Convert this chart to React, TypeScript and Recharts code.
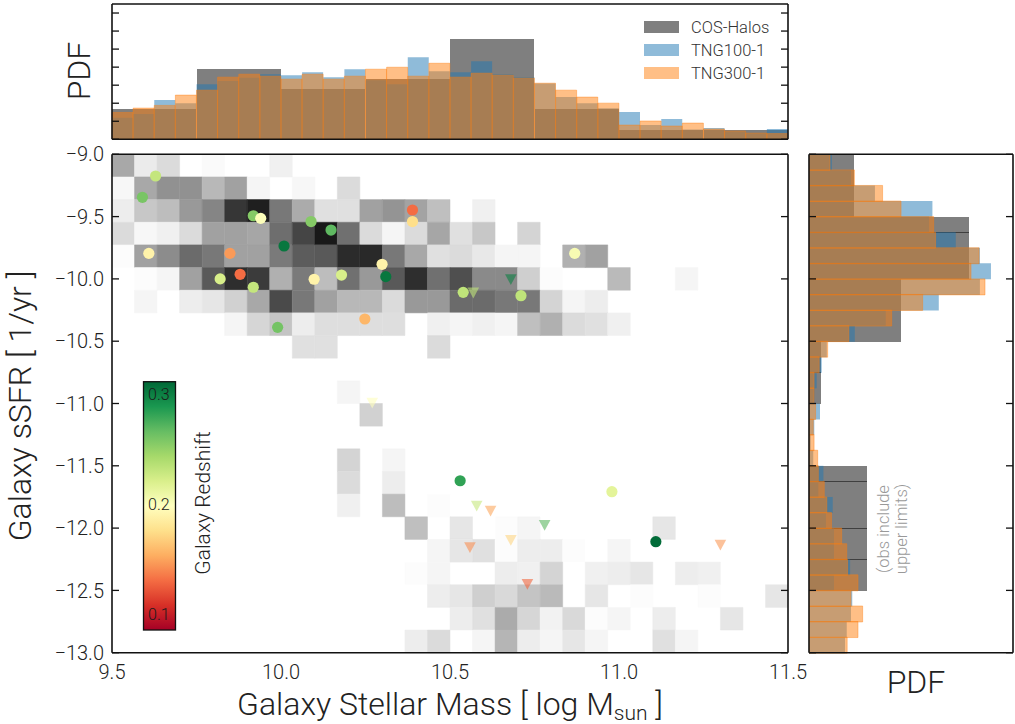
import React from "react";
import { ScatterChart, Scatter, BarChart, Bar, XAxis, YAxis, ReferenceArea } from "recharts";

const FONT = "Roboto, 'Noto Sans', sans-serif";
const INK = "#222222";

// ---------- stellar mass axis & PDFs (top panel) ----------
const MASS_MIN = 9.5;
const MASS_MAX = 11.5;
const massTicks = [9.5, 10.0, 10.5, 11.0, 11.5];

const cosMassBinWidth = 0.25;
const cosMassPdf = [0.335, 0.777, 0.556, 0.667, 1.109, 0.335, 0.106, 0.106];

const simMassBinWidth = 0.0625;
const tng100MassPdf = [
  0.239, 0.28, 0.435, 0.401, 0.611, 0.645, 0.681, 0.722, 0.711, 0.744, 0.689, 0.777, 0.656, 0.611, 0.91, 0.755,
  0.744, 0.866, 0.722, 0.689, 0.619, 0.468, 0.401, 0.343, 0.302, 0.158, 0.225, 0.11, 0.125, 0.092, 0.074, 0.114,
];
const tng300MassPdf = [
  0.298, 0.346, 0.376, 0.49, 0.545, 0.689, 0.722, 0.7, 0.667, 0.722, 0.667, 0.7, 0.777, 0.799, 0.7, 0.843,
  0.689, 0.733, 0.711, 0.678, 0.622, 0.545, 0.468, 0.401, 0.158, 0.203, 0.147, 0.18, 0.114, 0.092, 0.07, 0.063,
];
const massPdfTicks = [0, 0.2, 0.4, 0.6, 0.8, 1.0, 1.2, 1.4];
const MASS_PDF_MAX = 1.5;

// ---------- sSFR axis & PDFs (right panel), bins listed from -9 downwards ----------
const SSFR_MIN = -13;
const SSFR_MAX = -9;
const ssfrTicks = [-13, -12.5, -12, -11.5, -11, -10.5, -10, -9.5, -9];

const cosSsfrBinWidth = 0.5;
const cosSsfrPdf = [0.214, 0.754, 0.434, 0.056, 0, 0.275, 0.275, 0];

const simSsfrBinWidth = 0.125;
const tng100SsfrPdf = [
  0.108, 0.198, 0.311, 0.582, 0.566, 0.692, 0.806, 0.858, 0.806, 0.612, 0.362, 0.216, 0.084, 0.06, 0.036, 0.026,
  0.052, 0.025, 0.008, 0.02, 0.068, 0.044, 0.112, 0.08, 0.118, 0.118, 0.194, 0.118, 0.204, 0.198, 0.178, 0.17,
];
const tng300SsfrPdf = [
  0.099, 0.214, 0.347, 0.434, 0.588, 0.597, 0.802, 0.764, 0.83, 0.536, 0.39, 0.188, 0.088, 0.048, 0.024, 0.024,
  0.031, 0.02, 0.024, 0.041, 0.044, 0.072, 0.084, 0.106, 0.154, 0.178, 0.182, 0.231, 0.198, 0.253, 0.231, 0.18,
];
const ssfrPdfTicks = [0, 0.2, 0.4, 0.6, 0.8];
const SSFR_PDF_MAX = 0.962;

// ---------- simulated galaxy density (percent grey), rows from sSFR = -9 downwards ----------
const GRID_NX = 30;
const GRID_NY = 22;
const gridShade: number[][] = [
  [34, 8, 14, 0, 2, 0, 0, 6, 0, 0, 0, 0, 0, 0, 0, 0, 0, 0, 0, 0, 0, 0, 0, 0, 0, 0, 0, 0, 0, 0],
  [3, 34, 43, 43, 28, 37, 4, 0, 3, 0, 14, 0, 0, 0, 0, 0, 0, 0, 0, 0, 0, 0, 0, 0, 0, 0, 0, 0, 0, 0],
  [7, 22, 26, 40, 48, 79, 88, 53, 33, 12, 12, 37, 42, 36, 25, 0, 6, 0, 0, 0, 0, 0, 0, 0, 0, 0, 0, 0, 0, 0],
  [14, 3, 6, 14, 37, 37, 35, 57, 73, 90, 56, 14, 4, 14, 35, 12, 22, 0, 17, 0, 0, 0, 0, 0, 0, 0, 0, 0, 0, 0],
  [1, 37, 45, 58, 53, 37, 37, 52, 64, 65, 83, 84, 53, 34, 12, 14, 9, 4, 4, 0, 31, 37, 0, 0, 0, 0, 0, 0, 0, 0],
  [0, 1, 4, 37, 65, 82, 77, 31, 52, 26, 56, 40, 65, 82, 56, 69, 46, 46, 19, 1, 0, 0, 27, 0, 0, 4, 0, 0, 0, 0],
  [0, 4, 0, 7, 10, 18, 34, 71, 53, 37, 28, 28, 14, 40, 40, 58, 58, 53, 53, 17, 4, 7, 0, 0, 0, 0, 0, 0, 0, 0],
  [0, 0, 0, 0, 0, 4, 16, 23, 7, 13, 13, 13, 13, 0, 6, 4, 6, 4, 25, 31, 14, 12, 6, 0, 0, 0, 0, 0, 0, 0],
  [0, 0, 0, 0, 0, 0, 0, 0, 12, 12, 0, 0, 0, 0, 14, 0, 0, 0, 0, 0, 0, 0, 0, 0, 0, 0, 0, 0, 0, 0],
  [0, 0, 0, 0, 0, 0, 0, 0, 0, 0, 0, 0, 0, 0, 0, 0, 0, 0, 0, 0, 0, 0, 0, 0, 0, 0, 0, 0, 0, 0],
  [0, 0, 0, 0, 0, 0, 0, 0, 0, 0, 4, 0, 0, 0, 0, 0, 0, 0, 0, 0, 0, 0, 0, 0, 0, 0, 0, 0, 0, 0],
  [0, 0, 0, 0, 0, 0, 0, 0, 0, 0, 0, 18, 0, 0, 0, 0, 0, 0, 0, 0, 0, 0, 0, 0, 0, 0, 0, 0, 0, 0],
  [0, 0, 0, 0, 0, 0, 0, 0, 0, 0, 0, 0, 0, 0, 0, 0, 0, 0, 0, 0, 0, 0, 0, 0, 0, 0, 0, 0, 0, 0],
  [0, 0, 0, 0, 0, 0, 0, 0, 0, 0, 17, 0, 4, 0, 0, 0, 0, 0, 0, 0, 0, 0, 0, 0, 0, 0, 0, 0, 0, 0],
  [0, 0, 0, 0, 0, 0, 0, 0, 0, 0, 14, 0, 7, 0, 0, 0, 0, 0, 0, 0, 0, 0, 0, 0, 0, 0, 0, 0, 0, 0],
  [0, 0, 0, 0, 0, 0, 0, 0, 0, 0, 6, 0, 26, 0, 1, 0, 0, 0, 0, 0, 0, 0, 0, 0, 0, 0, 0, 0, 0, 0],
  [0, 0, 0, 0, 0, 0, 0, 0, 0, 0, 0, 0, 0, 25, 0, 10, 0, 1, 4, 0, 0, 0, 0, 0, 10, 0, 0, 0, 0, 0],
  [0, 0, 0, 0, 0, 0, 0, 0, 0, 0, 0, 0, 0, 0, 4, 10, 12, 1, 7, 7, 1, 0, 4, 0, 0, 0, 0, 0, 0, 0],
  [0, 0, 0, 0, 0, 0, 0, 0, 0, 0, 0, 0, 0, 1, 4, 0, 0, 7, 6, 17, 0, 6, 7, 10, 0, 7, 6, 0, 0, 0],
  [0, 0, 0, 0, 0, 0, 0, 0, 0, 0, 0, 0, 0, 0, 7, 10, 19, 15, 23, 27, 0, 10, 0, 1, 0, 0, 1, 0, 0, 10],
  [0, 0, 0, 0, 0, 0, 0, 0, 0, 0, 0, 0, 0, 0, 0, 7, 12, 33, 16, 5, 15, 1, 4, 0, 7, 0, 0, 10, 0, 0],
  [0, 0, 0, 0, 0, 0, 0, 0, 0, 0, 0, 0, 0, 7, 14, 0, 4, 29, 7, 4, 10, 4, 0, 0, 12, 4, 0, 0, 0, 0],
];

// ---------- COS-Halos galaxies ----------
const detMass = [
  9.629, 9.59, 9.918, 9.94, 10.089, 10.148, 10.389, 10.389, 9.609, 9.849, 10.009, 9.879, 9.82,
  9.918, 10.098, 10.179, 10.299, 10.31, 9.99, 10.248, 10.539, 10.71, 10.869, 10.53, 10.979, 11.109,
];
const detSsfr = [
  -9.174, -9.345, -9.493, -9.514, -9.54, -9.608, -9.447, -9.54, -9.795, -9.795, -9.736, -9.963, -10.0,
  -10.067, -10.003, -9.969, -9.883, -9.982, -10.389, -10.322, -10.108, -10.135, -9.795, -11.62, -11.708, -12.109,
];
const detRedshift = [
  0.231, 0.26, 0.256, 0.201, 0.256, 0.269, 0.131, 0.176, 0.19, 0.147, 0.305, 0.131, 0.222,
  0.231, 0.19, 0.222, 0.19, 0.305, 0.262, 0.158, 0.233, 0.233, 0.204, 0.283, 0.215, 0.31,
];
const limMass = [10.569, 10.68, 10.27, 10.579, 10.62, 10.78, 10.68, 10.559, 10.729, 11.3];
const limSsfr = [-10.11, -10.003, -10.994, -11.82, -11.86, -11.975, -12.095, -12.154, -12.449, -12.133];
const limRedshift = [0.233, 0.3, 0.2, 0.23, 0.152, 0.27, 0.172, 0.143, 0.129, 0.147];

const Z_MIN = 0.086;
const Z_MAX = 0.312;
const zTicks = [0.1, 0.2, 0.3];

// RdYlGn colour map
const RDYLGN = [
  "#a50026", "#d73027", "#f46d43", "#fdae61", "#fee08b", "#ffffbf",
  "#d9ef8b", "#a6d96a", "#66bd63", "#1a9850", "#006837",
];
const hexToRgb = (h: string) => [1, 3, 5].map((k) => parseInt(h.slice(k, k + 2), 16));
function zColor(z: number): string {
  const t = Math.min(1, Math.max(0, (z - Z_MIN) / (Z_MAX - Z_MIN)));
  const p = t * 10;
  const i = Math.min(9, Math.floor(p));
  const f = p - i;
  const a = hexToRgb(RDYLGN[i]);
  const b = hexToRgb(RDYLGN[i + 1]);
  const c = a.map((v, k) => Math.round(v + (b[k] - v) * f));
  return `rgb(${c[0]},${c[1]},${c[2]})`;
}

const detections = detMass.map((m, i) => ({ mass: m, ssfr: detSsfr[i], z: detRedshift[i] }));
const limits = limMass.map((m, i) => ({ mass: m, ssfr: limSsfr[i], z: limRedshift[i] }));

// histogram tables on the fine simulation binning; the coarser observed bins are spread over them
const massTable = tng100MassPdf.map((v, i) => ({
  bin: i,
  cos: cosMassPdf[Math.floor((i * simMassBinWidth) / cosMassBinWidth + 1e-9)],
  tng100: v,
  tng300: tng300MassPdf[i],
}));
const ssfrTable = tng100SsfrPdf.map((v, i) => ({
  bin: i,
  cos: cosSsfrPdf[Math.floor((i * simSsfrBinWidth) / cosSsfrBinWidth + 1e-9)],
  tng100: v,
  tng300: tng300SsfrPdf[i],
}));

// ---------- styling helpers ----------
const FRAME = { stroke: "#111", strokeWidth: 1.6 };
const TICK = { stroke: "#111", strokeWidth: 1.3 };
const NoTick = () => <g />;
const tickFont = { fontSize: 20, fill: INK, fontFamily: FONT, fontWeight: 300 };

// four framing axes with inward ticks; ids are tag+"b"/"t"/"l"/"r"
function edgeAxes(tag: string, xDomain: number[], xTicks: number[], yDomain: number[], yTicks: number[]) {
  const common = {
    type: "number" as const,
    allowDataOverflow: true,
    mirror: true,
    tick: NoTick,
    tickSize: 7,
    tickLine: TICK,
    axisLine: FRAME,
    interval: 0 as const,
  };
  return [
    <XAxis key={tag + "b"} xAxisId={tag + "b"} orientation="bottom" domain={xDomain} ticks={xTicks} {...common} />,
    <XAxis key={tag + "t"} xAxisId={tag + "t"} orientation="top" domain={xDomain} ticks={xTicks} {...common} />,
    <YAxis key={tag + "l"} yAxisId={tag + "l"} orientation="left" domain={yDomain} ticks={yTicks} {...common} />,
    <YAxis key={tag + "r"} yAxisId={tag + "r"} orientation="right" domain={yDomain} ticks={yTicks} {...common} />,
  ];
}

const cellW = (MASS_MAX - MASS_MIN) / GRID_NX;
const cellH = (SSFR_MAX - SSFR_MIN) / GRID_NY;
const densityCells: React.ReactNode[] = [];
gridShade.forEach((row, j) =>
  row.forEach((d, i) => {
    if (d <= 0) return;
    const g = Math.round(255 * (1 - d / 100));
    const fill = `rgb(${g},${g},${g})`;
    densityCells.push(
      <ReferenceArea
        key={`c${j}-${i}`}
        xAxisId="mx"
        yAxisId="my"
        x1={MASS_MIN + i * cellW}
        x2={MASS_MIN + (i + 1) * cellW}
        y1={SSFR_MAX - (j + 1) * cellH}
        y2={SSFR_MAX - j * cellH}
        fill={fill}
        fillOpacity={1}
        stroke={fill}
        strokeWidth={0.5}
        ifOverflow="visible"
      />
    );
  })
);

const DetectionDot = (p: any) => <circle cx={p.cx} cy={p.cy} r={5.6} fill={zColor(p.payload.z)} />;
const LimitMarker = (p: any) => {
  const { cx, cy } = p;
  return (
    <polygon
      points={`${cx - 5.8},${cy - 5} ${cx + 5.8},${cy - 5} ${cx},${cy + 5.8}`}
      fill={zColor(p.payload.z)}
      fillOpacity={0.6}
    />
  );
};

const fmtSigned = (v: number) => v.toFixed(1).replace("-", "\u2212");

// colour bar geometry
const CB_X = 143.5;
const CB_W = 32;
const CB_TOP = 381.7;
const CB_BOTTOM = 630;
const cbY = (z: number) => CB_BOTTOM - ((z - Z_MIN) / (Z_MAX - Z_MIN)) * (CB_BOTTOM - CB_TOP);

const legendItems = [
  { label: "COS-Halos", fill: "#000000" },
  { label: "TNG100-1", fill: "#1f77b4" },
  { label: "TNG300-1", fill: "#ff7f0e" },
];

const barStyles: Record<string, object> = {
  cos: { fill: "#000000", fillOpacity: 0.5, shapeRendering: "crispEdges" },
  tng100: { fill: "#1f77b4", fillOpacity: 0.5 },
  tng300: { fill: "#ff7f0e", fillOpacity: 0.5, stroke: "#ff7f0e", strokeOpacity: 0.45, strokeWidth: 0.9 },
};
const seriesKeys = ["cos", "tng100", "tng300"];

const TOP_MARGIN = { top: 4, right: 12, bottom: 10.7, left: 112 };
const SIDE_MARGIN = { top: 14.3, right: 2, bottom: 17.3, left: 14 };
const abs = (left: number, top: number) => ({ position: "absolute" as const, left, top });

export default function App() {
  return (
    <div style={{ position: "absolute", left: 0, top: 0, width: 1015, height: 724, background: "#fff", fontFamily: FONT }}>
      {/* stellar mass PDF */}
      <div style={abs(0, 0)}>
        <BarChart width={800} height={150} data={massTable} margin={TOP_MARGIN} barCategoryGap={0} barGap={0}>
          {seriesKeys.map((k) => (
            <XAxis key={"cx" + k} xAxisId={"cx" + k} dataKey="bin" type="category" hide />
          ))}
          <YAxis yAxisId="v" type="number" domain={[0, MASS_PDF_MAX]} allowDataOverflow hide />
          {seriesKeys.map((k) => (
            <Bar key={k} xAxisId={"cx" + k} yAxisId="v" dataKey={k} isAnimationActive={false} {...barStyles[k]} />
          ))}
        </BarChart>
      </div>
      <div style={abs(0, 0)}>
        <ScatterChart width={800} height={150} margin={TOP_MARGIN}>
          {edgeAxes("h", [MASS_MIN, MASS_MAX], massTicks, [0, MASS_PDF_MAX], massPdfTicks)}
        </ScatterChart>
      </div>

      {/* sSFR vs stellar mass */}
      <div style={abs(0, 140)}>
        <ScatterChart width={840} height={584} margin={{ top: 14.3, right: 52, bottom: 41.3, left: 52 }}>
          <XAxis
            xAxisId="mx"
            dataKey="mass"
            type="number"
            domain={[MASS_MIN, MASS_MAX]}
            ticks={massTicks}
            allowDataOverflow
            interval={0}
            height={30}
            tickLine={false}
            axisLine={false}
            tickSize={0}
            tickMargin={12}
            tick={tickFont}
            tickFormatter={(v: number) => v.toFixed(1)}
          />
          <YAxis
            yAxisId="my"
            dataKey="ssfr"
            type="number"
            domain={[SSFR_MIN, SSFR_MAX]}
            ticks={ssfrTicks}
            allowDataOverflow
            interval={0}
            width={60}
            tickLine={false}
            axisLine={false}
            tickSize={0}
            tickMargin={8}
            tick={tickFont}
            tickFormatter={fmtSigned}
          />
          {densityCells}
          <Scatter xAxisId="mx" yAxisId="my" data={detections} shape={DetectionDot} isAnimationActive={false} />
          <Scatter xAxisId="mx" yAxisId="my" data={limits} shape={LimitMarker} isAnimationActive={false} />
          {edgeAxes("m", [MASS_MIN, MASS_MAX], massTicks, [SSFR_MIN, SSFR_MAX], ssfrTicks)}
        </ScatterChart>
      </div>

      {/* sSFR PDF */}
      <div style={abs(795, 140)}>
        <BarChart
          width={220}
          height={530}
          data={ssfrTable}
          layout="vertical"
          margin={SIDE_MARGIN}
          barCategoryGap={0}
          barGap={0}
        >
          {seriesKeys.map((k) => (
            <YAxis key={"cy" + k} yAxisId={"cy" + k} dataKey="bin" type="category" hide />
          ))}
          <XAxis xAxisId="v" type="number" domain={[0, SSFR_PDF_MAX]} allowDataOverflow hide />
          {seriesKeys.map((k) => (
            <Bar key={k} xAxisId="v" yAxisId={"cy" + k} dataKey={k} isAnimationActive={false} {...barStyles[k]} />
          ))}
        </BarChart>
      </div>
      <div style={abs(795, 140)}>
        <ScatterChart width={220} height={530} margin={SIDE_MARGIN}>
          {edgeAxes("p", [0, SSFR_PDF_MAX], ssfrPdfTicks, [SSFR_MIN, SSFR_MAX], ssfrTicks)}
        </ScatterChart>
      </div>

      {/* titles, legend and colour bar */}
      <svg
        width={1015}
        height={724}
        style={{ position: "absolute", left: 0, top: 0, pointerEvents: "none" }}
        fontFamily={FONT}
        fontWeight={300}
      >
        <defs>
          <linearGradient id="rdylgn" x1="0" y1="1" x2="0" y2="0">
            {RDYLGN.map((c, i) => (
              <stop key={c} offset={i / 10} stopColor={c} />
            ))}
          </linearGradient>
        </defs>

        <text x={79} y={71} transform="rotate(-90 79 71)" textAnchor="middle" dominantBaseline="central" fontSize={32} fill={INK}>
          PDF
        </text>
        <text x={20} y={406} transform="rotate(-90 20 406)" textAnchor="middle" dominantBaseline="central" fontSize={32} fill={INK}>
          Galaxy sSFR [ 1/yr ]
        </text>
        <text x={450} y={715} textAnchor="middle" fontSize={32} fill={INK}>
          Galaxy Stellar Mass [ log M
          <tspan fontSize={21} dy={5}>sun</tspan>
          <tspan dy={-5}> ]</tspan>
        </text>
        <text x={916} y={693} textAnchor="middle" fontSize={32} fill={INK}>
          PDF
        </text>

        <text x={883} y={529} transform="rotate(-90 883 529)" textAnchor="middle" dominantBaseline="central" fontSize={16.5} fill="#999">
          (obs include
        </text>
        <text x={901} y={529} transform="rotate(-90 901 529)" textAnchor="middle" dominantBaseline="central" fontSize={16.5} fill="#999">
          upper limits)
        </text>

        {legendItems.map((it, i) => (
          <g key={it.label}>
            <rect x={644} y={21 + i * 23} width={35} height={12} fill={it.fill} fillOpacity={0.5} />
            <text x={691} y={27 + i * 23} dominantBaseline="central" fontSize={16.5} fill="#333">
              {it.label}
            </text>
          </g>
        ))}

        <rect x={CB_X} y={CB_TOP} width={CB_W} height={CB_BOTTOM - CB_TOP} fill="url(#rdylgn)" stroke="#111" strokeWidth={1.3} />
        {zTicks.map((z) => (
          <text key={z} x={CB_X + 4.5} y={cbY(z)} dominantBaseline="central" fontSize={16} fill="#1a1a1a">
            {z.toFixed(1)}
          </text>
        ))}
        <text x={203} y={503} transform="rotate(-90 203 503)" textAnchor="middle" dominantBaseline="central" fontSize={21} fill={INK}>
          Galaxy Redshift
        </text>
      </svg>
    </div>
  );
}
